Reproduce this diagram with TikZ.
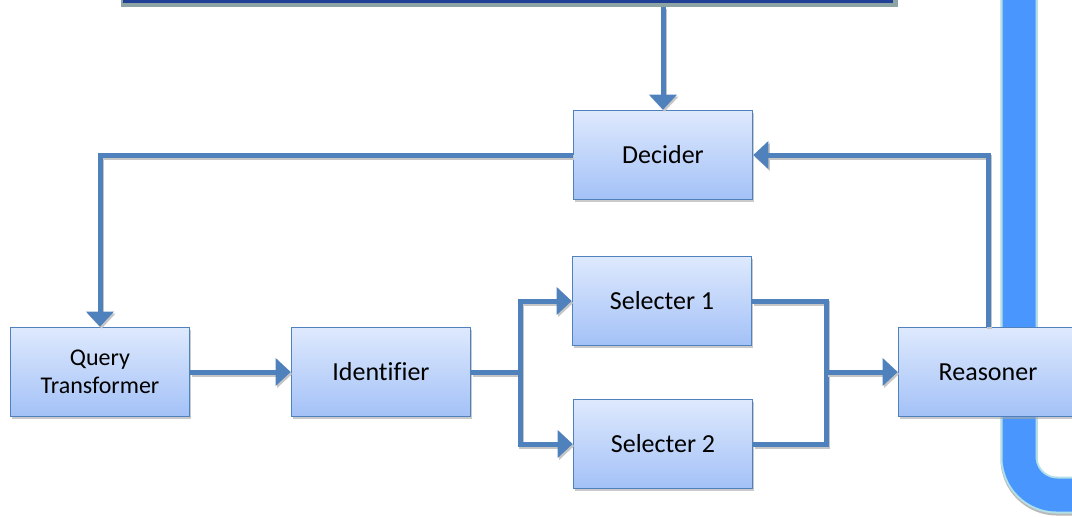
\documentclass[tikz,border=0pt]{standalone}
\usepackage{fontspec}
\setmainfont[Ligatures=NoCommon]{Carlito}
\usetikzlibrary{arrows.meta,shadows}
\definecolor{edgeblue}{RGB}{79,129,189}
\definecolor{boxtop}{RGB}{222,233,253}
\definecolor{boxbottom}{RGB}{163,193,247}
\definecolor{pipeblue}{RGB}{74,150,255}
\definecolor{pipeedge}{RGB}{178,224,232}
\definecolor{bannerblue}{RGB}{32,64,150}
\definecolor{bannergrey}{RGB}{140,164,164}
\tikzset{
  x=1pt, y=-1pt,
  stagebox/.style={rectangle, draw=edgeblue, line width=1.6pt,
    top color=boxtop, bottom color=boxbottom,
    minimum width=179pt, minimum height=89pt, inner sep=0pt,
    font=\fontsize{26}{30}\selectfont, text=black,
    drop shadow={shadow xshift=1.5pt, shadow yshift=-2.5pt, fill=gray!70, opacity=0.6}},
  flow/.style={draw=edgeblue, line width=5pt,
    preaction={draw=gray!45, line width=5pt, transform canvas={shift={(1.5pt,-2pt)}}}},
  flowarrow/.style={flow, -{Triangle[width=27pt,length=15pt]}},
}
\begin{document}
\begin{tikzpicture}
\useasboundingbox (0,0) rectangle (1072,517);

% banner strip at the top edge
\node (banner) [rectangle, fill=bannergrey, minimum width=777pt, minimum height=20pt,
  inner sep=0pt, anchor=south west] at (121,7) {};
\fill[bannerblue] (123,-15) rectangle (893,3);

% wide pipe on the right, with a soft shadow under its bend
\draw[gray!55, line width=37pt, rounded corners=38pt] (1019,-20) -- (1019,497) -- (1100,497);
\draw[pipeedge, line width=37pt, rounded corners=38pt] (1019,-20) -- (1019,495) -- (1100,495);
\draw[pipeblue, line width=33pt, rounded corners=38pt] (1019,-20) -- (1019,495) -- (1100,495);

% stages
\node (decider) [stagebox] at (663,155) {Decider};
\node (qt) [stagebox, font=\fontsize{24}{28}\selectfont, align=center] at (100,372) {Query\\Transformer};
\node (ident) [stagebox] at (381,372) {Identifier};
\node (sel1) [stagebox] at (662,301) {Selecter 1};
\node (sel2) [stagebox] at (663,444) {Selecter 2};
\node (reasoner) [stagebox] at (988,372) {Reasoner};

% junction points
\coordinate (split) at (520,372);
\coordinate (merge) at (826,372);

% connectors
\draw[flowarrow] (banner.south -| decider.north) -- (decider.north);
\draw[flowarrow] (decider.west) -| (qt.north);
\draw[flowarrow] (reasoner.north) |- (decider.east);
\draw[flowarrow] (qt.east) -- (ident.west);
\draw[flow] (ident.east) -- (split);
\draw[flowarrow] (split) |- (sel1.west);
\draw[flowarrow] (split) |- (sel2.west);
\draw[flow] (sel1.east) -| (merge);
\draw[flow] (sel2.east) -| (merge);
\draw[flowarrow] (merge) -- (reasoner.west);
\end{tikzpicture}
\end{document}
